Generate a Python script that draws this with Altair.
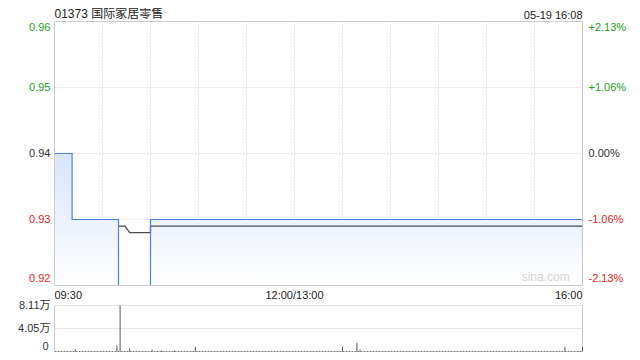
import altair as alt
import pandas as pd

FONT = "Liberation Sans, Arial, Noto Sans CJK SC, sans-serif"

# ---------------- data ----------------
title_text = "01373 国际家居零售"
stamp_text = "05-19 16:08"
watermark = "sina.com"

# minutes since 09:30 on a compressed trading axis (0..330)
price_minute = [0, 11, 40, 60, 330]
price_value = [0.94, 0.93, 0.92, 0.93, 0.93]

avg_minute = [40, 44, 47, 60, 60, 330]
avg_value = [0.929, 0.929, 0.928, 0.928, 0.929, 0.929]

vol_minute = [13, 39, 41, 47, 61, 67, 75, 88, 180, 189, 191, 319, 330]
vol_value = [3800, 10400, 81100, 5500, 3300, 2000, 2000, 8300, 8300, 15000, 3000, 8300, 8300]

price_ticks = [0.96, 0.95, 0.94, 0.93, 0.92]
price_tick_labels = ["0.96", "0.95", "0.94", "0.93", "0.92"]
pct_tick_labels = ["+2.13%", "+1.06%", "0.00%", "-1.06%", "-2.13%"]
tick_colors = ["#1ea01e", "#1ea01e", "#333333", "#e32626", "#e32626"]

vol_ticks = [81100, 40550, 0]
vol_tick_labels = ["8.11万", "4.05万", "0"]

time_ticks = [0, 150, 330]
time_tick_labels = ["09:30", "12:00/13:00", "16:00"]
grid_minutes = [30, 60, 90, 120, 150, 180, 210, 240, 270, 300]

# ---------------- scales ----------------
W, H = 528, 330
P_LO, P_HI = min(price_ticks), max(price_ticks)
T0, T1 = 0, 330
MAIN_RANGE = [264, 0]
VOL_RANGE = [330, 284]


def X(f):
    return alt.X(f, type="quantitative", scale=alt.Scale(domain=[T0, T1], nice=False, zero=False), axis=None)


def YM(f):
    return alt.Y(f, type="quantitative",
                 scale=alt.Scale(domain=[P_LO, P_HI], range=MAIN_RANGE, nice=False, zero=False), axis=None)


def YV(f):
    return alt.Y(f, type="quantitative",
                 scale=alt.Scale(domain=[0, max(vol_ticks)], range=VOL_RANGE, nice=False, zero=False), axis=None)


price_df = pd.DataFrame({"m": price_minute, "p": price_value, "floor": P_LO})
avg_df = pd.DataFrame({"m": avg_minute, "p": avg_value, "i": list(range(len(avg_minute)))})
vol_df = pd.DataFrame({"m": vol_minute, "v": vol_value, "zero": 0})
ptick_df = pd.DataFrame({"p": price_ticks, "lab": price_tick_labels, "pct": pct_tick_labels,
                         "col": tick_colors, "m0": T0, "m1": T1})
vtick_df = pd.DataFrame({"v": vol_ticks, "lab": vol_tick_labels, "m0": T0, "m1": T1})
ttick_df = pd.DataFrame({"m": time_ticks, "lab": time_tick_labels, "p": P_LO})
vgrid_df = pd.DataFrame({"m": grid_minutes, "top": P_HI, "bot": P_LO})
frame_df = pd.DataFrame({"m0": [T0], "m1": [T1], "top": [P_HI], "bot": [P_LO]})
head_df = pd.DataFrame({"m0": [T0], "m1": [T1], "p": [P_HI], "t": [title_text], "s": [stamp_text],
                        "w": [watermark], "pb": [P_LO], "mw": [307]})

GRID = "#cccccc"

layers = []

# main frame / grid
layers.append(alt.Chart(vgrid_df).mark_rule(color=GRID, strokeDash=[1, 2], strokeWidth=1).encode(
    x=X("m"), y=YM("top"), y2="bot:Q"))
layers.append(alt.Chart(ptick_df[ptick_df["p"].between(P_LO + 1e-9, P_HI - 1e-9)]).mark_rule(
    color=GRID, strokeDash=[1, 2], strokeWidth=1).encode(x=X("m0"), x2="m1:Q", y=YM("p")))

# price area + lines
grad = alt.Gradient(gradient="linear",
                    stops=[alt.GradientStop(color="#d9e5f9", offset=0),
                           alt.GradientStop(color="#ffffff", offset=1)],
                    x1=0, x2=0, y1=0, y2=1)
layers.append(alt.Chart(price_df).mark_area(interpolate="step-after", color=grad).encode(
    x=X("m"), y=YM("p"), y2="floor:Q"))
layers.append(alt.Chart(avg_df).mark_line(color="#4a4a4a", strokeWidth=1.3).encode(
    x=X("m"), y=YM("p"), order="i:Q"))
layers.append(alt.Chart(price_df).mark_line(interpolate="step-after", color="#4a80e4", strokeWidth=1.2).encode(
    x=X("m"), y=YM("p")))

layers.append(alt.Chart(frame_df).mark_rect(fillOpacity=0, stroke="#cccccc", strokeWidth=1).encode(
    x=X("m0"), x2="m1:Q", y=YM("top"), y2="bot:Q"))

# watermark
layers.append(alt.Chart(head_df).mark_text(font=FONT, fontSize=12, color="#d4d4d4", baseline="bottom", dy=-2).encode(
    x=X("mw"), y=YM("pb"), text="w:N"))

# left / right price labels
def lab_layer(df, baseline, dy, field, align, dx):
    return alt.Chart(df).mark_text(font=FONT, fontSize=11, align=align, baseline=baseline, dx=dx, dy=dy).encode(
        x=X("m0" if align == "right" else "m1"), y=YM("p"), text=f"{field}:N",
        color=alt.Color("col:N", scale=None))

top_df = ptick_df[ptick_df["p"] == P_HI]
bot_df = ptick_df[ptick_df["p"] == P_LO]
mid_df = ptick_df[(ptick_df["p"] > P_LO) & (ptick_df["p"] < P_HI)]
for field, align, dx in [("lab", "right", -4), ("pct", "left", 6)]:
    layers.append(lab_layer(top_df, "top", 0, field, align, dx))
    layers.append(lab_layer(mid_df, "middle", 0, field, align, dx))
    layers.append(lab_layer(bot_df, "bottom", -2, field, align, dx))

# title + timestamp
layers.append(alt.Chart(head_df).mark_text(font=FONT, fontSize=12, align="left", baseline="top", dy=-13,
                                           color="#222222").encode(x=X("m0"), y=YM("p"), text="t:N"))
layers.append(alt.Chart(head_df).mark_text(font=FONT, fontSize=11, align="right", baseline="top", dy=-12,
                                           color="#222222").encode(x=X("m1"), y=YM("p"), text="s:N"))

# time labels
for i, al in enumerate(["left", "center", "right"]):
    layers.append(alt.Chart(ttick_df.iloc[[i]]).mark_text(font=FONT, fontSize=11, align=al, baseline="middle",
                                                          dy=10, color="#222222").encode(
        x=X("m"), y=YM("p"), text="lab:N"))

# volume panel
layers.append(alt.Chart(vtick_df[vtick_df["v"] > 0]).mark_rule(color=GRID, strokeDash=[1, 1], strokeWidth=1).encode(
    x=X("m0"), x2="m1:Q", y=YV("v")))
layers.append(alt.Chart(vtick_df[vtick_df["v"] == 0]).mark_rule(color="#777777", strokeDash=[2, 1], strokeWidth=1).encode(
    x=X("m0"), x2="m1:Q", y=YV("v")))
layers.append(alt.Chart(pd.DataFrame({"m": [T0, T1], "vtop": max(vol_ticks), "vbot": 0})).mark_rule(
    color="#cccccc", strokeWidth=1).encode(x=X("m"), y=YV("vtop"), y2="vbot:Q"))
layers.append(alt.Chart(vol_df).mark_rule(color="#555555", strokeWidth=1).encode(
    x=X("m"), y=YV("v"), y2="zero:Q"))

vt_top = vtick_df[vtick_df["v"] > 0]
vt_bot = vtick_df[vtick_df["v"] == 0]
layers.append(alt.Chart(vt_top).mark_text(font=FONT, fontSize=11, align="right", baseline="middle", dx=-4,
                                          color="#333333").encode(x=X("m0"), y=YV("v"), text="lab:N"))
layers.append(alt.Chart(vt_bot).mark_text(font=FONT, fontSize=11, align="right", baseline="bottom", dx=-6,
                                          color="#333333").encode(x=X("m0"), y=YV("v"), text="lab:N"))

chart = alt.layer(*layers).resolve_scale(y="independent").properties(
    width=W, height=H,
    autosize=alt.AutoSizeParams(type="none"),
    padding={"left": 46.5, "top": 13.5, "right": 49, "bottom": 0.5},
).configure_view(stroke=None)

chart.save("out.html", embed_options={"renderer": "svg", "actions": False})
